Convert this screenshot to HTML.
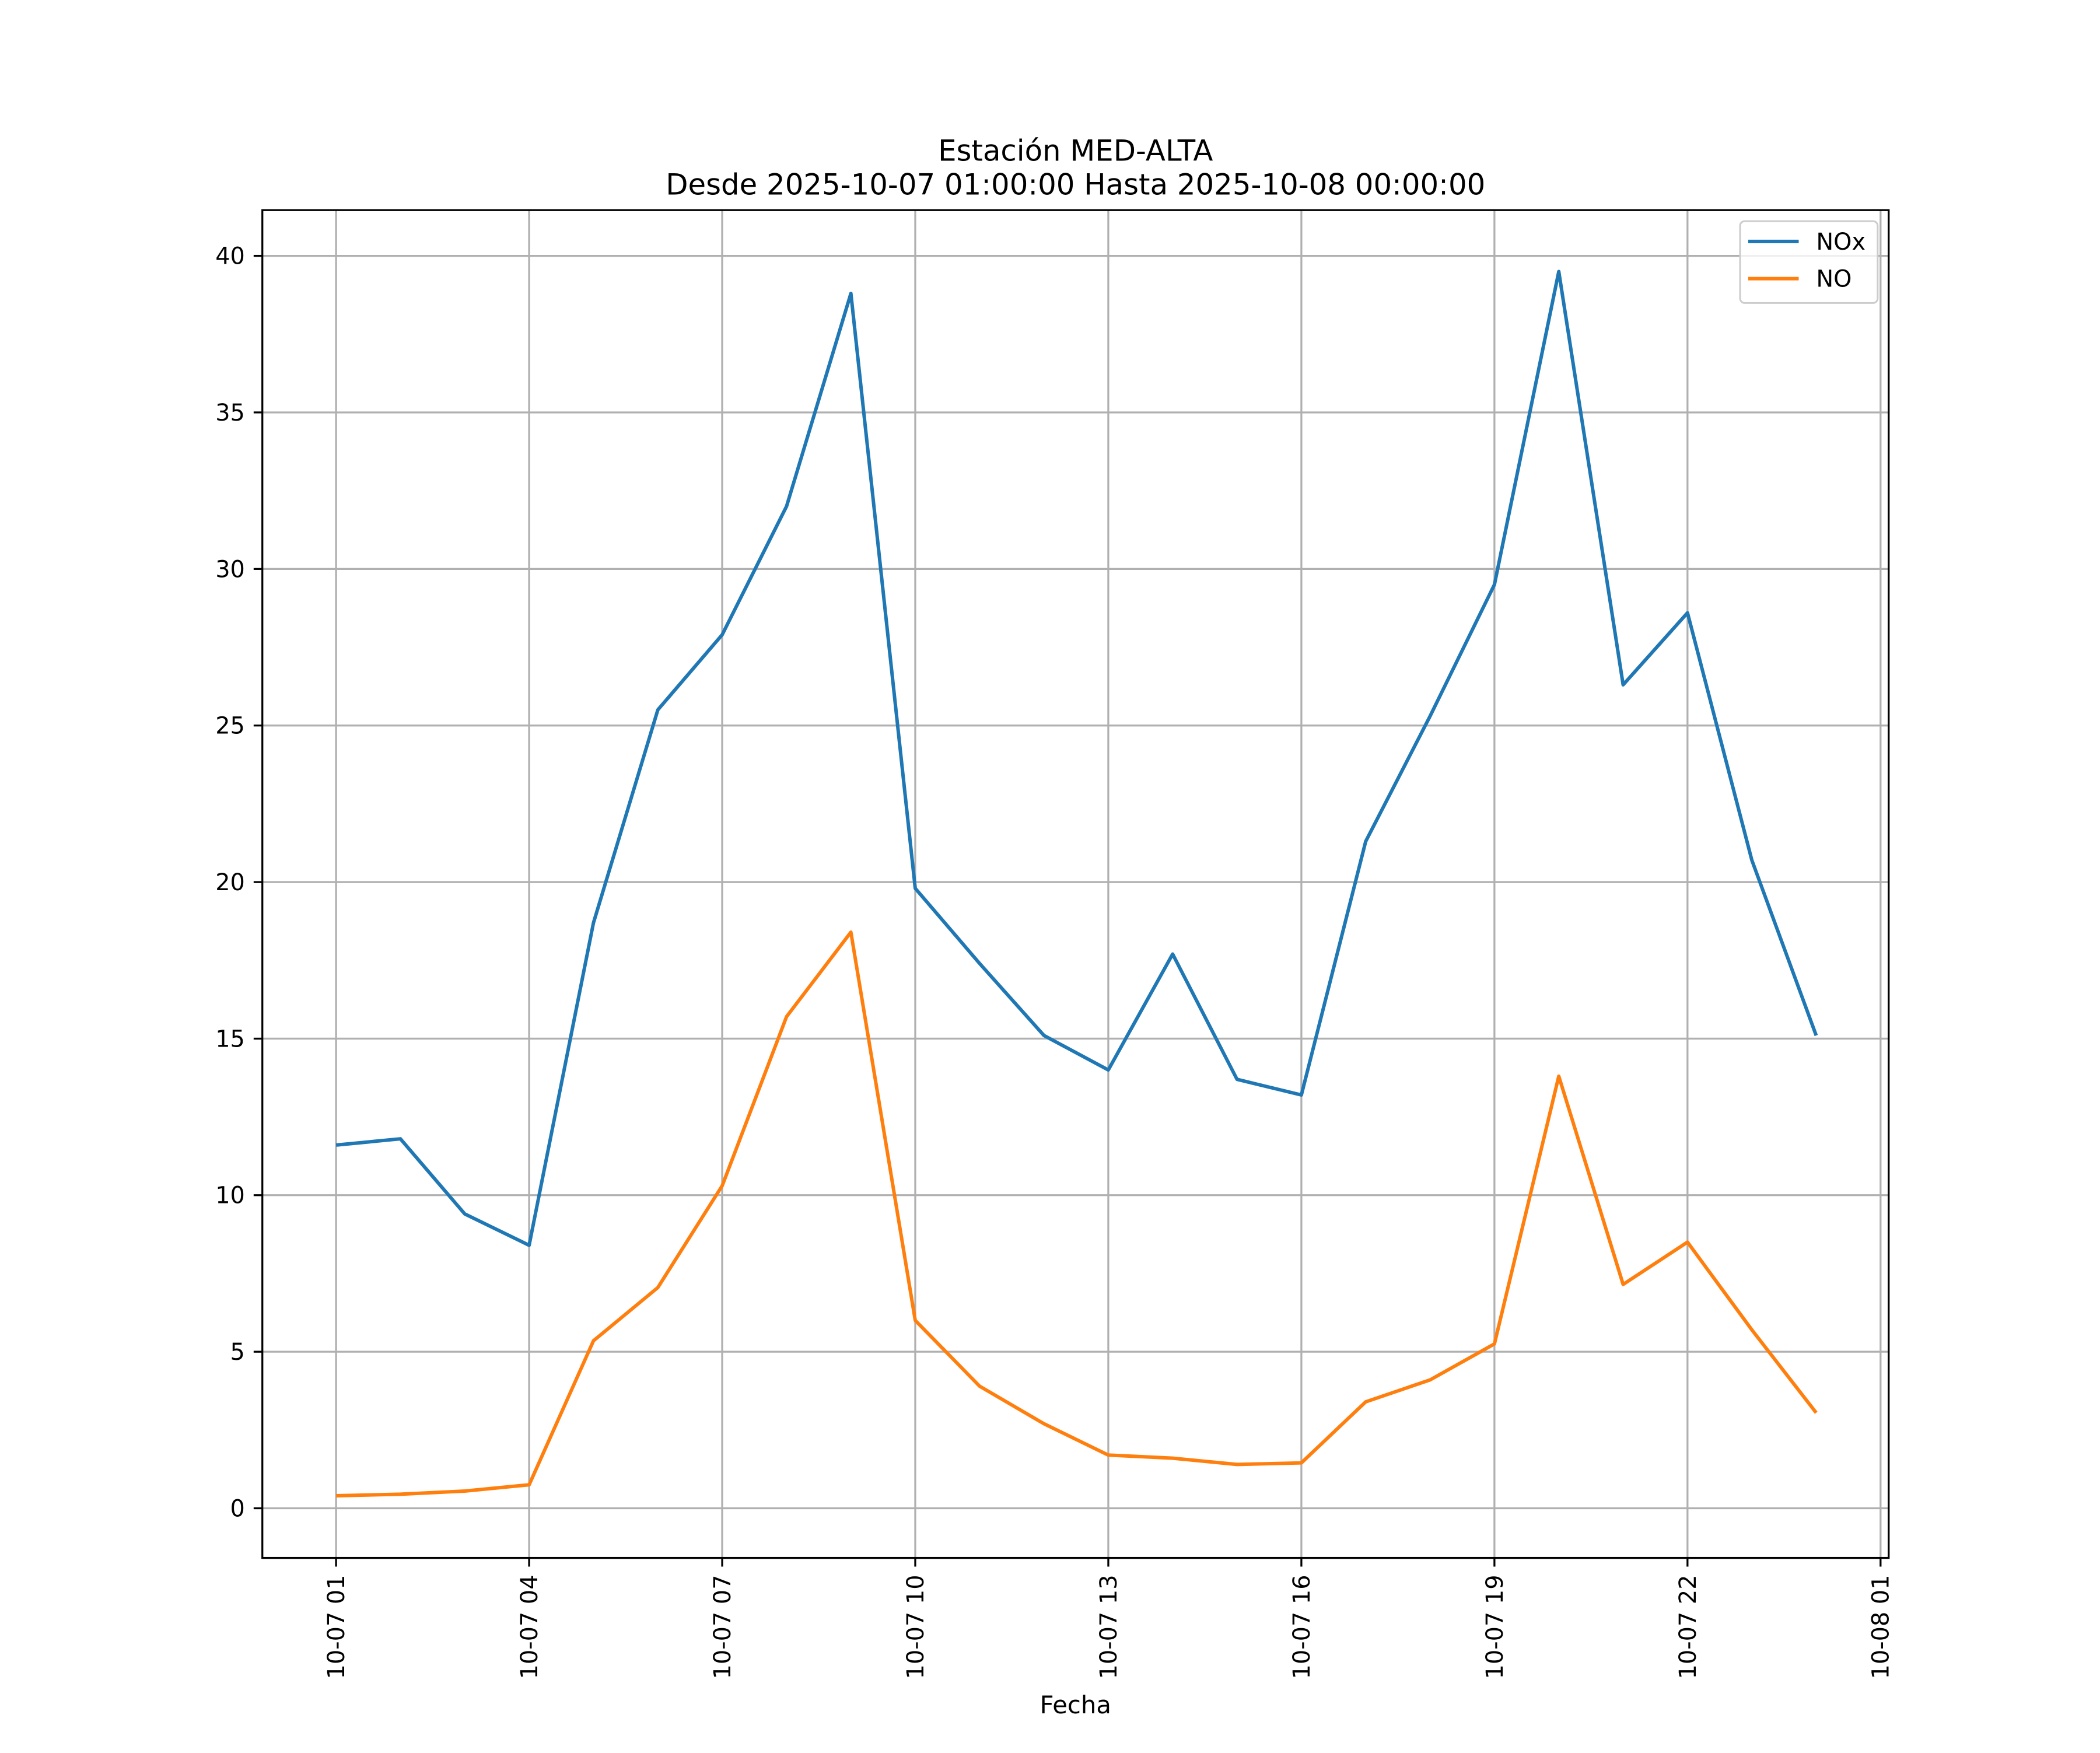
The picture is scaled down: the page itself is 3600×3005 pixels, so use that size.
<!DOCTYPE html>
<html><head><meta charset="utf-8"><style>
html,body{margin:0;padding:0;background:#fff}
svg text{font-family:"DejaVu Sans","Liberation Sans",sans-serif;fill:#000}
</style></head><body>
<svg id="chart" width="3600" height="3000" xmlns="http://www.w3.org/2000/svg">
<rect width="3600" height="3000" fill="#fff"/>
<g transform="scale(0.995)">
<g id="grid"></g>
<g id="series"></g>
<rect x="452" y="362" width="2802" height="2322" fill="none" stroke="#000" stroke-width="3.3"/>
<g id="axes"></g>
<text x="1853" y="277" font-size="50" text-anchor="middle">Estación MED-ALTA</text>
<text x="1853" y="335" font-size="50" text-anchor="middle">Desde 2025-10-07 01:00:00 Hasta 2025-10-08 00:00:00</text>
<text x="1853" y="2952" font-size="42" text-anchor="middle">Fecha</text>
<g>
<rect x="2998" y="381" width="237" height="141" rx="8" fill="#fff" fill-opacity="0.8" stroke="#ccc" stroke-width="3"/>
<line x1="3012" y1="416" x2="3099" y2="416" stroke="#1f77b4" stroke-width="6"/>
<text x="3129" y="430" font-size="40">NOx</text>
<line x1="3012" y1="480" x2="3099" y2="480" stroke="#ff7f0e" stroke-width="6"/>
<text x="3129" y="494" font-size="40">NO</text>
</g>
</g>
</svg>
<script>
const hours = [1,2,3,4,5,6,7,8,9,10,11,12,13,14,15,16,17,18,19,20,21,22,23,24];
const noxValues = [11.6,11.8,9.4,8.4,18.7,25.5,27.9,32.0,38.8,19.8,17.4,15.1,14.0,17.7,13.7,13.2,21.3,25.3,29.5,39.5,26.3,28.6,20.7,15.1];
const noValues = [0.4,0.45,0.55,0.75,5.35,7.05,10.3,15.7,18.4,6.0,3.9,2.7,1.7,1.6,1.4,1.45,3.4,4.1,5.25,13.8,7.15,8.5,5.7,3.05];
const yTicks = [0,5,10,15,20,25,30,35,40];
const xTickHours = [1,4,7,10,13,16,19,22,25];
const xTickLabels = ["10-07 01","10-07 04","10-07 07","10-07 10","10-07 13","10-07 16","10-07 19","10-07 22","10-08 01"];
const NS="http://www.w3.org/2000/svg";
const X=h=>579+(h-1)*(3240-579)/24;
const Y=v=>2598.5-v*(2598.5-440.8)/40;
function mk(tag,attrs,parent){const e=document.createElementNS(NS,tag);for(const k in attrs)e.setAttribute(k,attrs[k]);parent.appendChild(e);return e;}
const grid=document.getElementById('grid'),axes=document.getElementById('axes'),series=document.getElementById('series');
yTicks.forEach(v=>{
 const g=mk('line',{x1:452,x2:3254,y1:Y(v),y2:Y(v),stroke:'#b0b0b0','stroke-width':3.3},grid);
 
 
 mk('line',{x1:437,x2:452,y1:Y(v),y2:Y(v),stroke:'#000','stroke-width':3.3},axes);
 const t=mk('text',{x:422,y:Y(v)+14,'font-size':40,'text-anchor':'end'},axes);
 
 
 t.textContent=v;
});
xTickHours.forEach((h,i)=>{
 const g=mk('line',{x1:X(h),x2:X(h),y1:362,y2:2684,stroke:'#b0b0b0','stroke-width':3.3},grid);
 
 
 mk('line',{x1:X(h),x2:X(h),y1:2684,y2:2699,stroke:'#000','stroke-width':3.3},axes);
 const t=mk('text',{x:0,y:0,'font-size':40,'text-anchor':'end',transform:`translate(${X(h)+14},2713) rotate(-90)`},axes);
 
 
 t.textContent=xTickLabels[i];
});
function line(vals,color,name){
 const p=mk('polyline',{points:vals.map((v,i)=>X(hours[i])+','+Y(v)).join(' '),fill:'none',stroke:color,'stroke-width':6,'stroke-linejoin':'round'},series);
 
 
}
line(noxValues,'#1f77b4','nox-line');
line(noValues,'#ff7f0e','no-line');
</script>
</body></html>
